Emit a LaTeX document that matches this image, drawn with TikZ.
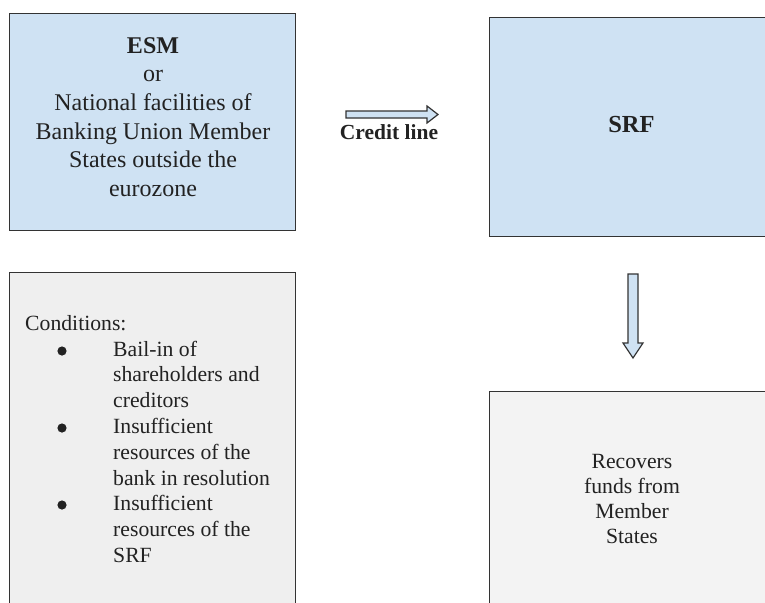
\documentclass[tikz,border=0pt]{standalone}
\usepackage{fontspec}
\setmainfont{Liberation Serif}
\definecolor{boxblue}{HTML}{CFE2F3}
\definecolor{boxgray}{HTML}{F3F3F3}
\definecolor{condgray}{HTML}{EFEFEF}
\definecolor{edgecol}{HTML}{333333}
\definecolor{txtcol}{HTML}{222222}
\newcommand{\firstline}{\rule{0pt}{20pt}}
\begin{document}
\begin{tikzpicture}[x=1pt,y=-1pt,
  box/.style={draw=edgecol, line width=1.2pt, inner sep=0pt, anchor=north west},
  txt/.style={font=\fontsize{21.7}{25.2}\selectfont, align=center, inner sep=0pt, text=txtcol, anchor=north},
  bigtxt/.style={txt, font=\fontsize{24}{28.6}\selectfont},
  bulletdot/.style={fill=txtcol},
  blockarrow/.style={draw=edgecol, line width=1.2pt, fill=boxblue, line join=miter}]
\clip (0,0) rectangle (765,602);
\fill[white] (0,0) rectangle (765,602);
% boxes
\node[box, fill=boxblue, minimum width=286pt, minimum height=217pt] (esm) at (9,13) {};
\node[box, fill=boxblue, minimum width=290pt, minimum height=219pt] (srf) at (489,17) {};
\node[box, fill=condgray, minimum width=286pt, minimum height=350pt] (cond) at (9,272) {};
\node[box, fill=boxgray, minimum width=290pt, minimum height=230pt] (rec) at (489,391) {};
% texts (first baseline = node top + 20pt)
\node[bigtxt] (esmt) at (153,33) {\firstline\textbf{ESM}\\or\\National facilities of\\Banking Union Member\\States outside the\\eurozone};
\node[bigtxt, font=\fontsize{24.5}{28.8}\selectfont\bfseries] (srft) at (631.5,112) {\firstline SRF};
\node[txt] (rect) at (632,448) {\firstline Recovers\\funds from\\Member\\States};
\node[txt, anchor=north west, align=left, font=\fontsize{21.7}{25.8}\selectfont] (condt) at (25,310) {\firstline Conditions:\\
\hspace*{88pt}Bail-in of\\
\hspace*{88pt}shareholders and\\
\hspace*{88pt}creditors\\
\hspace*{88pt}Insufficient\\
\hspace*{88pt}resources of the\\
\hspace*{88pt}bank in resolution\\
\hspace*{88pt}Insufficient\\
\hspace*{88pt}resources of the\\
\hspace*{88pt}SRF};
\fill[bulletdot] (62,351) circle (4.6pt);
\fill[bulletdot] (62,428) circle (4.6pt);
\fill[bulletdot] (62,505) circle (4.6pt);
\node[txt, font=\fontsize{21.5}{25}\selectfont\bfseries] (credit) at (389,119) {\firstline Credit line};
% block arrows
\draw[blockarrow] (346,111) -- (427,111) -- (427,106) -- (438,114.5) -- (427,123) -- (427,118) -- (346,118) -- cycle;
\draw[blockarrow] (628,274) -- (638,274) -- (638,343) -- (643,343) -- (633,358) -- (623,343) -- (628,343) -- cycle;
\end{tikzpicture}
\end{document}
